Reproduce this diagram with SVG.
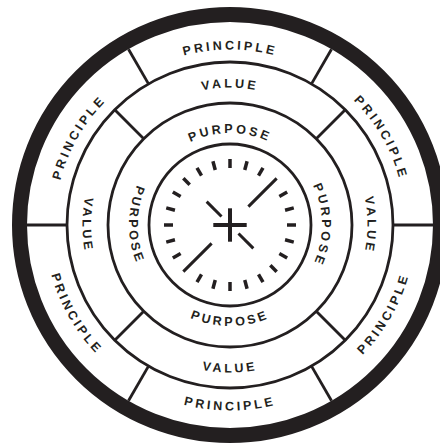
<svg xmlns="http://www.w3.org/2000/svg" width="440" height="444" viewBox="0 0 440 444">
<style>
.ring{fill:none;stroke:#231f20;stroke-width:2.8}
.div{stroke:#231f20;stroke-width:2.8;fill:none}
.lbl{font-family:"Liberation Sans",Arial,sans-serif;font-weight:bold;font-size:12.5px;letter-spacing:3px;fill:#231f20}
.tick{stroke:#231f20;stroke-width:3.5}
.hand{stroke:#231f20;stroke-width:3}
</style>
<defs>
<path id="pTop" d="M78.01,137.25 A175.5,175.5 0 0 1 381.99,137.25"/>
<path id="pUR" d="M230,49.5 A175.5,175.5 0 0 1 381.99,312.75"/>
<path id="pUL" d="M78.01,312.75 A175.5,175.5 0 0 1 230,49.5"/>
<path id="pBot" d="M69.35,317.75 A185.5,185.5 0 0 0 390.65,317.75"/>
<path id="pLR" d="M230,410.5 A185.5,185.5 0 0 0 390.65,132.25"/>
<path id="pLL" d="M69.35,132.25 A185.5,185.5 0 0 0 230,410.5"/>
<path id="vTop" d="M110.92,156.25 A137.5,137.5 0 0 1 349.08,156.25"/>
<path id="vRight" d="M298.75,105.92 A137.5,137.5 0 0 1 298.75,344.08"/>
<path id="vBot" d="M102.26,298.75 A147.5,147.5 0 0 0 357.74,298.75"/>
<path id="vLeft" d="M156.25,97.26 A147.5,147.5 0 0 0 156.25,352.74"/>
<path id="uTop" d="M150.33,179 A92,92 0 0 1 309.67,179"/>
<path id="uRight" d="M276,145.33 A92,92 0 0 1 276,304.67"/>
<path id="uBot" d="M142.53,275.5 A101,101 0 0 0 317.47,275.5"/>
<path id="uLeft" d="M179.5,137.53 A101,101 0 0 0 179.5,312.47"/>
</defs>
<g id="rings">
<circle cx="230" cy="225" r="210.5" fill="none" stroke="#231f20" stroke-width="15"/>
<circle class="ring" cx="230" cy="225" r="163"/>
<circle class="ring" cx="230" cy="225" r="122"/>
<circle class="ring" cx="230" cy="225" r="81"/>
</g>
<g id="connectors">
<line class="div" x1="393" y1="225" x2="434" y2="225"/>
<line class="div" x1="67" y1="225" x2="26" y2="225"/>
<line class="div" x1="311.5" y1="366.16" x2="331.5" y2="400.8"/>
<line class="div" x1="148.5" y1="366.16" x2="128.5" y2="400.8"/>
<line class="div" x1="148.5" y1="83.84" x2="128.5" y2="49.2"/>
<line class="div" x1="311.5" y1="83.84" x2="331.5" y2="49.2"/>
<line class="div" x1="316.27" y1="311.27" x2="345.26" y2="340.26"/>
<line class="div" x1="143.73" y1="311.27" x2="114.74" y2="340.26"/>
<line class="div" x1="143.73" y1="138.73" x2="114.74" y2="109.74"/>
<line class="div" x1="316.27" y1="138.73" x2="345.26" y2="109.74"/>
</g>
<g id="principle-labels" class="lbl" text-anchor="middle">
<text><textPath href="#pTop" startOffset="50%">PRINCIPLE</textPath></text>
<text><textPath href="#pUR" startOffset="50%">PRINCIPLE</textPath></text>
<text><textPath href="#pUL" startOffset="50%">PRINCIPLE</textPath></text>
<text><textPath href="#pBot" startOffset="50%">PRINCIPLE</textPath></text>
<text><textPath href="#pLR" startOffset="50%">PRINCIPLE</textPath></text>
<text><textPath href="#pLL" startOffset="50%">PRINCIPLE</textPath></text>
</g>
<g id="value-labels" class="lbl" text-anchor="middle">
<text><textPath href="#vTop" startOffset="50%">VALUE</textPath></text>
<text><textPath href="#vRight" startOffset="50%">VALUE</textPath></text>
<text><textPath href="#vBot" startOffset="50%">VALUE</textPath></text>
<text><textPath href="#vLeft" startOffset="50%">VALUE</textPath></text>
</g>
<g id="purpose-labels" class="lbl" text-anchor="middle">
<text><textPath href="#uTop" startOffset="50%">PURPOSE</textPath></text>
<text><textPath href="#uRight" startOffset="50%">PURPOSE</textPath></text>
<text><textPath href="#uBot" startOffset="50%">PURPOSE</textPath></text>
<text><textPath href="#uLeft" startOffset="50%">PURPOSE</textPath></text>
</g>
<g id="clock">
<g transform="translate(230,225)">
<line class="tick" x1="57" y1="0" x2="66" y2="0" transform="rotate(0)"/>
<line class="tick" x1="57" y1="0" x2="66" y2="0" transform="rotate(15)"/>
<line class="tick" x1="57" y1="0" x2="66" y2="0" transform="rotate(30)"/>
<line class="tick" x1="57" y1="0" x2="66" y2="0" transform="rotate(45)"/>
<line class="tick" x1="57" y1="0" x2="66" y2="0" transform="rotate(60)"/>
<line class="tick" x1="57" y1="0" x2="66" y2="0" transform="rotate(75)"/>
<line class="tick" x1="57" y1="0" x2="66" y2="0" transform="rotate(90)"/>
<line class="tick" x1="57" y1="0" x2="66" y2="0" transform="rotate(105)"/>
<line class="tick" x1="57" y1="0" x2="66" y2="0" transform="rotate(120)"/>
<line class="tick" x1="57" y1="0" x2="66" y2="0" transform="rotate(150)"/>
<line class="tick" x1="57" y1="0" x2="66" y2="0" transform="rotate(165)"/>
<line class="tick" x1="57" y1="0" x2="66" y2="0" transform="rotate(180)"/>
<line class="tick" x1="57" y1="0" x2="66" y2="0" transform="rotate(195)"/>
<line class="tick" x1="57" y1="0" x2="66" y2="0" transform="rotate(210)"/>
<line class="tick" x1="57" y1="0" x2="66" y2="0" transform="rotate(225)"/>
<line class="tick" x1="57" y1="0" x2="66" y2="0" transform="rotate(240)"/>
<line class="tick" x1="57" y1="0" x2="66" y2="0" transform="rotate(255)"/>
<line class="tick" x1="57" y1="0" x2="66" y2="0" transform="rotate(270)"/>
<line class="tick" x1="57" y1="0" x2="66" y2="0" transform="rotate(285)"/>
<line class="tick" x1="57" y1="0" x2="66" y2="0" transform="rotate(300)"/>
<line class="tick" x1="57" y1="0" x2="66" y2="0" transform="rotate(330)"/>
<line class="tick" x1="57" y1="0" x2="66" y2="0" transform="rotate(345)"/>
<line class="hand" x1="26" y1="0" x2="66" y2="0" transform="rotate(315)"/>
<line class="hand" x1="26" y1="0" x2="66" y2="0" transform="rotate(135)"/>
<line class="hand" x1="12" y1="0" x2="33" y2="0" transform="rotate(225)"/>
<line class="hand" x1="12" y1="0" x2="33" y2="0" transform="rotate(45)"/>
<line stroke="#231f20" stroke-width="4" x1="-16.7" y1="0" x2="16.7" y2="0"/>
<line stroke="#231f20" stroke-width="4" x1="0" y1="-16.7" x2="0" y2="16.7"/>
</g>
</g>
</svg>
